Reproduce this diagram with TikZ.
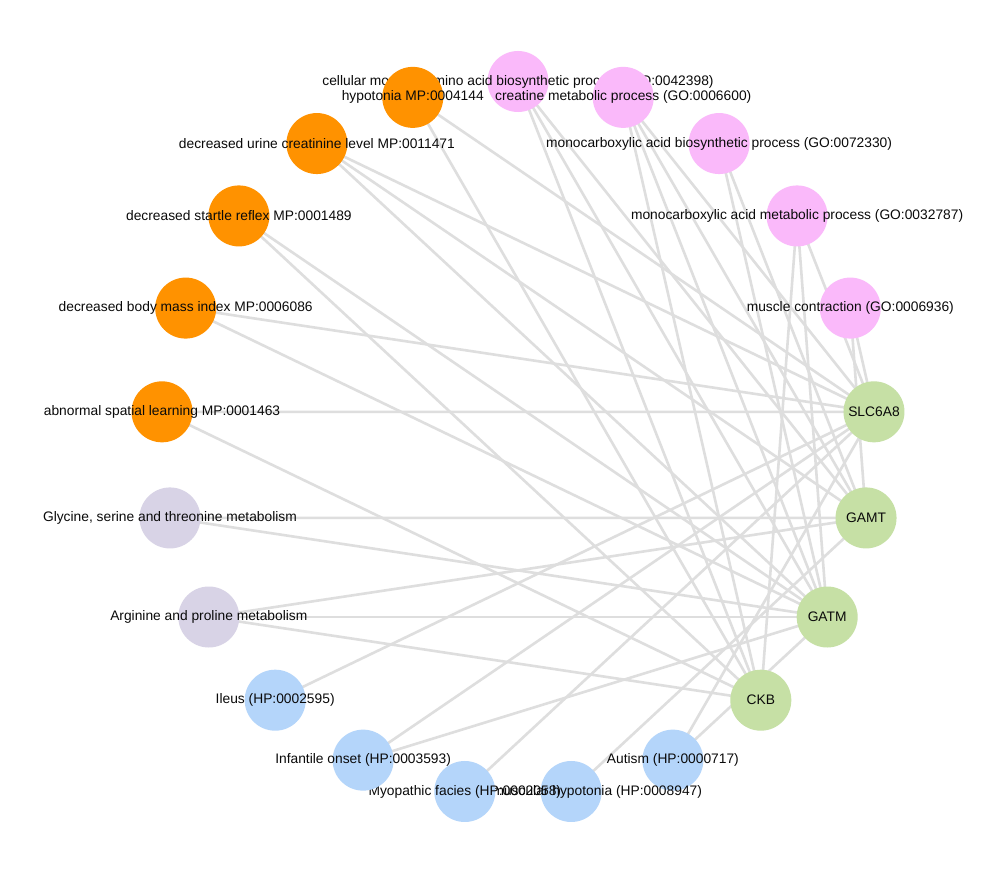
\documentclass[tikz,border=0pt]{standalone}
\usepackage{fontspec}
\setmainfont{Liberation Sans}
\usetikzlibrary{backgrounds}
\definecolor{cOr}{RGB}{255,146,0}
\definecolor{cPk}{RGB}{250,185,250}
\definecolor{cLv}{RGB}{216,211,230}
\definecolor{cBl}{RGB}{180,213,250}
\definecolor{cGr}{RGB}{198,224,165}
\definecolor{cEdge}{RGB}{222,222,222}
\definecolor{cTxt}{RGB}{10,10,10}
\begin{document}
\begin{tikzpicture}[x=1pt,y=1pt,
  vtx/.style={circle, minimum size=61pt, inner sep=0pt, draw=none},
  lbl/.style={font=\fontsize{13.8}{16}\selectfont, text=cTxt, inner sep=0pt},
  link/.style={draw=cEdge, line width=2.6pt}]
\useasboundingbox (0,0) rectangle (1007,-875);
\begin{scope}[shift={(518,-438.5)}]
\node[vtx, fill=cPk, label={[lbl]center:cellular modified amino acid biosynthetic process (GO:0042398)}] (n0) at ({90-0*360/21}:357) {};
\node[vtx, fill=cPk, label={[lbl]center:creatine metabolic process (GO:0006600)}] (n1) at ({90-1*360/21}:357) {};
\node[vtx, fill=cPk, label={[lbl]center:monocarboxylic acid biosynthetic process (GO:0072330)}] (n2) at ({90-2*360/21}:357) {};
\node[vtx, fill=cPk, label={[lbl]center:monocarboxylic acid metabolic process (GO:0032787)}] (n3) at ({90-3*360/21}:357) {};
\node[vtx, fill=cPk, label={[lbl]center:muscle contraction (GO:0006936)}] (n4) at ({90-4*360/21}:357) {};
\node[vtx, fill=cGr, label={[lbl]center:SLC6A8}] (n5) at ({90-5*360/21}:357) {};
\node[vtx, fill=cGr, label={[lbl]center:GAMT}] (n6) at ({90-6*360/21}:357) {};
\node[vtx, fill=cGr, label={[lbl]center:GATM}] (n7) at ({90-7*360/21}:357) {};
\node[vtx, fill=cGr, label={[lbl]center:CKB}] (n8) at ({90-8*360/21}:357) {};
\node[vtx, fill=cBl, label={[lbl]center:Autism (HP:0000717)}] (n9) at ({90-9*360/21}:357) {};
\node[vtx, fill=cBl, label={[lbl]center:Infantile muscular hypotonia (HP:0008947)}] (n10) at ({90-10*360/21}:357) {};
\node[vtx, fill=cBl, label={[lbl]center:Myopathic facies (HP:0002058)}] (n11) at ({90-11*360/21}:357) {};
\node[vtx, fill=cBl, label={[lbl]center:Infantile onset (HP:0003593)}] (n12) at ({90-12*360/21}:357) {};
\node[vtx, fill=cBl, label={[lbl]center:Ileus (HP:0002595)}] (n13) at ({90-13*360/21}:357) {};
\node[vtx, fill=cLv, label={[lbl]center:Arginine and proline metabolism}] (n14) at ({90-14*360/21}:357) {};
\node[vtx, fill=cLv, label={[lbl]center:{Glycine, serine and threonine metabolism}}] (n15) at ({90-15*360/21}:357) {};
\node[vtx, fill=cOr, label={[lbl]center:abnormal spatial learning MP:0001463}] (n16) at ({90-16*360/21}:357) {};
\node[vtx, fill=cOr, label={[lbl]center:decreased body mass index MP:0006086}] (n17) at ({90-17*360/21}:357) {};
\node[vtx, fill=cOr, label={[lbl]center:decreased startle reflex MP:0001489}] (n18) at ({90-18*360/21}:357) {};
\node[vtx, fill=cOr, label={[lbl]center:decreased urine creatinine level MP:0011471}] (n19) at ({90-19*360/21}:357) {};
\node[vtx, fill=cOr, label={[lbl]center:hypotonia MP:0004144}] (n20) at ({90-20*360/21}:357) {};
\end{scope}
\begin{scope}[on background layer]
\fill[white] (0,0) rectangle (1007,-875);
\foreach \a/\b in {0/6,0/7,0/8,1/5,1/6,1/7,1/8,2/6,2/7,3/5,3/7,3/8,4/5,4/6,
  9/5,9/7,10/6,11/5,12/5,12/7,13/5,14/6,14/7,14/8,15/6,15/7,
  16/5,16/8,17/5,17/7,18/7,18/8,19/5,19/6,19/7,20/5,20/8}
  \draw[link] (n\a.center) -- (n\b.center);
\end{scope}
\end{tikzpicture}
\end{document}
